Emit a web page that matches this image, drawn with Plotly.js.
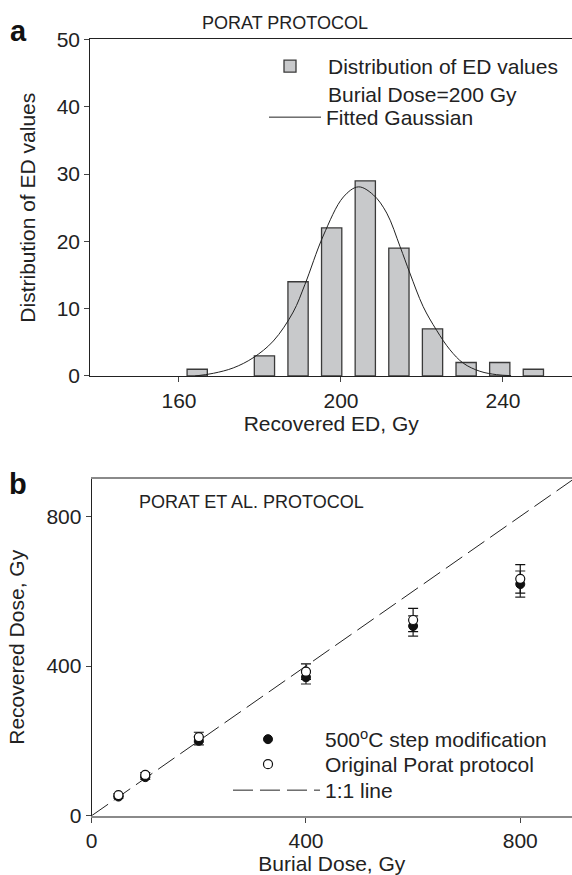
<!DOCTYPE html>
<html><head><meta charset="utf-8">
<script src="https://cdn.plot.ly/plotly-3.0.1.min.js"></script>
<style>html,body{margin:0;padding:0;background:#fff}#chart{width:572px;height:875px}</style>
</head><body><div id="chart"></div>
<script>
// ---- Panel a: distribution of recovered ED values (burial dose 200 Gy) ----
const binCenters = [164.5, 181.1, 189.4, 197.7, 206.0, 214.3, 222.6, 230.9, 239.2, 247.5];
const binCounts  = [1, 3, 14, 22, 29, 19, 7, 2, 2, 1];
// fitted Gaussian, points
const gaussX = [164, 168.5, 173.4, 178.3, 183.3, 188.2, 191.1, 195.6, 200.6, 204.3, 208.0, 211.3, 214.6, 217.0, 220.3, 223.6, 226.9, 230.2, 234.3, 238.4, 242];
const gaussY = [0, 0.4, 1.2, 2.7, 5.2, 9.5, 13.6, 20.8, 26.6, 28.1, 26.9, 24.2, 19.2, 15.3, 10.3, 6.8, 3.9, 1.9, 0.7, 0.2, 0.05];
const xTicksA = [160, 200, 240];
const yTicksA = [0, 10, 20, 30, 40, 50];

// ---- Panel b: recovered vs burial dose ----
const burialDose = [50, 100, 200, 400, 600, 800];
const dose500 = [51, 103, 200, 370, 507, 619];
const err500  = [4, 6, 11, 18, 27, 35];
const doseOrig = [55, 109, 210, 385, 523, 633];
const errOrig  = [4, 6, 13, 21, 31, 38];
const lineX = [0, 900];
const lineY = [0, 900];
const ticksB = [0, 400, 800];

const F = 'Liberation Sans, Arial, Helvetica, sans-serif';
const TXT = '#222';

const traces = [
  {type:'bar', x:binCenters, y:binCounts, width:5, xaxis:'x', yaxis:'y',
   name:'Distribution of ED values<br>Burial Dose=200 Gy', legend:'legend',
   marker:{color:'#c8c9cb', line:{color:'#3a3a3a', width:1.3}}},
  {type:'scatter', mode:'lines', x:gaussX, y:gaussY, xaxis:'x', yaxis:'y',
   name:'Fitted Gaussian', legend:'legend2', line:{color:'#222', width:1, shape:'spline', smoothing:1}},
  {type:'scatter', mode:'lines', x:lineX, y:lineY, xaxis:'x2', yaxis:'y2',
   name:'1:1 line', legend:'legend5', line:{color:'#222', width:1, dash:'20px,7px'}},
  {type:'scatter', mode:'markers', x:burialDose, y:dose500, xaxis:'x2', yaxis:'y2',
   name:'500<sup>o</sup>C step modification', legend:'legend3',
   marker:{symbol:'circle', size:9, color:'#111', line:{color:'#111', width:1}},
   error_y:{type:'data', array:err500, visible:true, color:'#222', thickness:1.2, width:5}},
  {type:'scatter', mode:'markers', x:burialDose, y:doseOrig, xaxis:'x2', yaxis:'y2',
   name:'Original Porat protocol', legend:'legend4',
   marker:{symbol:'circle', size:9, color:'#fff', line:{color:'#111', width:1.2}},
   error_y:{type:'data', array:errOrig, visible:true, color:'#111', thickness:1.2, width:5}}
];

const axBase = {showgrid:false, zeroline:false, ticks:'outside', ticklen:5, tickwidth:1,
  tickcolor:'#444', showline:true, tickfont:{family:F, size:21, color:TXT}, automargin:false};

function leg(left, top, w, valign) {
  return {x:left/572, y:1-top/875, xanchor:'left', yanchor:'top', bgcolor:'rgba(0,0,0,0)',
    font:{family:F, size:21, color:TXT}, itemwidth:w, valign:valign || 'middle', tracegroupgap:0};
}

const layout = {
  width:572, height:875, margin:{l:0, r:0, t:0, b:0},
  paper_bgcolor:'#fff', plot_bgcolor:'#fff',
  font:{family:F, size:21, color:TXT}, showlegend:true, barmode:'overlay',
  xaxis:Object.assign({}, axBase, {domain:[0.1582, 1], range:[138.15, 257.04], tickvals:xTicksA,
    linecolor:'#222', linewidth:1.5, mirror:true, anchor:'y',
    title:{text:'Recovered ED, Gy', font:{family:F, size:21, color:TXT}, standoff:2}}),
  yaxis:Object.assign({}, axBase, {domain:[0.5703, 0.9549], range:[0, 50], tickvals:yTicksA,
    linecolor:'#222', linewidth:1.3, anchor:'x',
    title:{text:'Distribution of ED values', font:{family:F, size:21, color:TXT}, standoff:15}}),
  xaxis2:Object.assign({}, axBase, {domain:[0.1603, 1], range:[0, 896.6], tickvals:ticksB,
    linecolor:'#8a8a8a', linewidth:2, mirror:true, anchor:'y2',
    title:{text:'Burial Dose, Gy', font:{family:F, size:21, color:TXT}, standoff:8}}),
  yaxis2:Object.assign({}, axBase, {domain:[0.0678, 0.4526], range:[0, 900], tickvals:ticksB,
    linecolor:'#222', linewidth:1, anchor:'x2',
    title:{text:'Recovered Dose, Gy', font:{family:F, size:21, color:TXT}, standoff:16}}),
  legend:leg(252, 46, 66, 'top'),
  legend2:leg(264, 97, 52),
  legend3:leg(211, 719, 104),
  legend4:leg(211, 744, 104),
  legend5:leg(228, 770, 87),
  annotations:[
    {text:'<b>a</b>', xref:'paper', yref:'paper', x:18/572, y:1-31/875, showarrow:false,
     xanchor:'center', yanchor:'middle', font:{family:F, size:29, color:'#111'}},
    {text:'<b>b</b>', xref:'paper', yref:'paper', x:18/572, y:1-484/875, showarrow:false,
     xanchor:'center', yanchor:'middle', font:{family:F, size:29, color:'#111'}},
    {text:'PORAT PROTOCOL', xref:'paper', yref:'paper', x:285/572, y:1-23/875, showarrow:false,
     xanchor:'center', yanchor:'middle', font:{family:F, size:18, color:TXT}},
    {text:'PORAT ET AL. PROTOCOL', xref:'paper', yref:'paper', x:251/572, y:1-502/875, showarrow:false,
     xanchor:'center', yanchor:'middle', font:{family:F, size:18, color:TXT}}
  ]
};

Plotly.newPlot('chart', traces, layout, {staticPlot:true, displayModeBar:false});
</script>
</body></html>
